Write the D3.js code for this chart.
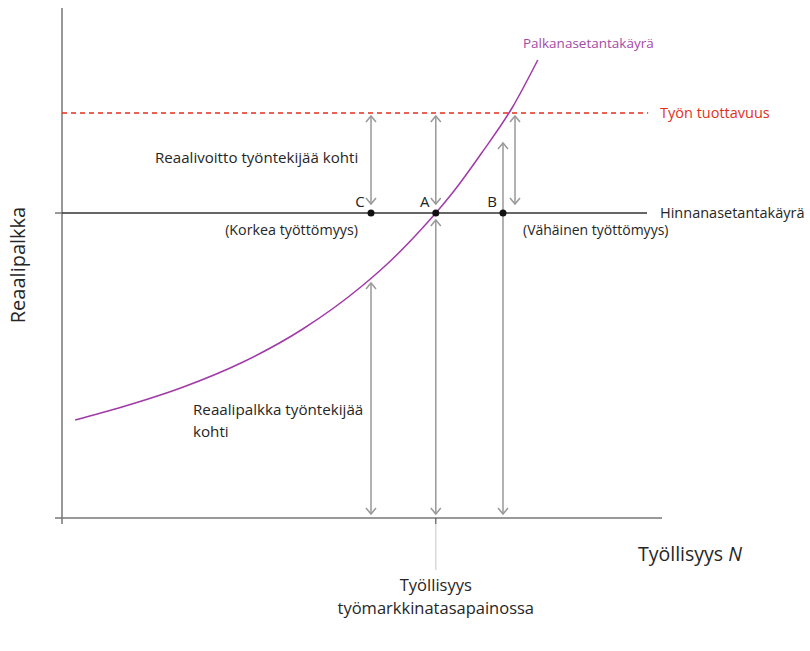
<!DOCTYPE html>
<html><head><meta charset="utf-8">
<script src="https://cdn.jsdelivr.net/npm/d3@7"></script>
<style>body{margin:0;background:#fff}svg{display:block}text{font-family:"Open Sans","Noto Sans",sans-serif}</style>
</head><body>
<svg id="c" width="810" height="651"></svg>
<script>
// --- data (model units) ---
const productivity = 81;      // Työn tuottavuus
const priceSetting = 61;      // Hinnanasetantakäyrä
const curveX = [2.2, 10, 20, 30, 40, 50, 55, 60, 62.3, 65, 70, 75, 79.3];
const curveY = [19.6, 22.2, 26.1, 31.1, 37.7, 46.4, 51.7, 57.9, 61, 64.9, 73.1, 82.0, 91.6];
const pointNames = ["C","A","B"];
const pointX = [51.5, 62.3, 73.5];
const arrowX = [51.5, 51.5, 62.3, 62.3, 73.5, 75.5];
const arrowY1 = [80.4, 47, 80.4, 59.6, 75, 80.4];
const arrowY2 = [62.8, 0.8, 62.8, 0.8, 0.8, 62.8];

const svg = d3.select("#c");
const x = d3.scaleLinear().domain([0,100]).range([62,662]);
const y = d3.scaleLinear().domain([0,100]).range([518,18]);

// axes
svg.append("line").attr("x1",x(0)).attr("x2",x(0)).attr("y1",y(102)).attr("y2",y(0)+6).attr("stroke","#777").attr("stroke-width",1.5);
svg.append("line").attr("x1",x(0)-7).attr("x2",x(100)).attr("y1",y(0)).attr("y2",y(0)).attr("stroke","#777").attr("stroke-width",1.5);
svg.append("line").attr("x1",x(0)-7).attr("x2",x(0)).attr("y1",y(priceSetting)).attr("y2",y(priceSetting)).attr("stroke","#777").attr("stroke-width",1.5);
// equilibrium marker below axis
svg.append("line").attr("x1",x(pointX[1])).attr("x2",x(pointX[1])).attr("y1",y(0)).attr("y2",y(0)+6).attr("stroke","#555").attr("stroke-width",1.2);
svg.append("line").attr("x1",x(pointX[1])).attr("x2",x(pointX[1])).attr("y1",y(0)+6).attr("y2",570).attr("stroke","#d0d0d0").attr("stroke-width",1.2);

// productivity line
svg.append("line").attr("x1",x(0)).attr("x2",x(97.7)).attr("y1",y(productivity)).attr("y2",y(productivity))
  .attr("stroke","#e2301e").attr("stroke-width",1.3).attr("stroke-dasharray","5,4");
// price setting line
svg.append("line").attr("x1",x(0)).attr("x2",x(97.5)).attr("y1",y(priceSetting)).attr("y2",y(priceSetting))
  .attr("stroke","#333").attr("stroke-width",1.5);

// arrows
const ag = svg.append("g").attr("stroke","#999").attr("stroke-width",1.5).attr("fill","none");
arrowX.forEach((ax,i)=>{
  const px = x(ax), a = y(arrowY1[i]), b = y(arrowY2[i]);
  ag.append("line").attr("x1",px).attr("x2",px).attr("y1",a).attr("y2",b);
  ag.append("path").attr("d",`M${px-5},${a+6}L${px},${a}L${px+5},${a+6}`);
  ag.append("path").attr("d",`M${px-5},${b-6}L${px},${b}L${px+5},${b-6}`);
});

// wage setting curve
const wageCurve = curveX.map((v,i)=>[v,curveY[i]]);
svg.append("path").datum(wageCurve)
  .attr("d",d3.line().x(d=>x(d[0])).y(d=>y(d[1])).curve(d3.curveMonotoneX))
  .attr("fill","none").attr("stroke","#a03aa8").attr("stroke-width",1.5);

// points
svg.selectAll("circle.pt").data(pointX).join("circle").attr("class","pt")
  .attr("cx",d=>x(d)).attr("cy",y(priceSetting)).attr("r",3.5).attr("fill","#111");
svg.selectAll("text.pl").data(pointX).join("text").attr("class","pl")
  .attr("x",d=>x(d)-11).attr("y",y(priceSetting)-6).attr("text-anchor","middle")
  .attr("font-size",15).attr("fill","#222").text((d,i)=>pointNames[i]);

function txt(t,px,py,opt={}){
  const e = svg.append("text").attr("x",px).attr("y",py).attr("font-size",opt.size||13.5)
    .attr("fill",opt.fill||"#262626").attr("text-anchor",opt.anchor||"start").text(t);
  if(opt.rot) e.attr("transform",`rotate(-90,${px},${py})`);
  return e;
}
txt("Palkanasetantakäyrä",523,48,{fill:"#a54aa5"});
txt("Työn tuottavuus",660,118,{fill:"#e2301e",size:14.5});
txt("Hinnanasetantakäyrä",660,218,{size:14.5});
txt("(Vähäinen työttömyys)",523,235,{size:14});
txt("(Korkea työttömyys)",358,235,{anchor:"end",size:14.3});
txt("Reaalivoitto työntekijää kohti",155,163,{size:15.1});
txt("Reaalipalkka työntekijää",193,415,{size:15.2});
txt("kohti",193,437,{size:15.2});
txt("Reaalipalkka",25,265,{size:20,rot:true,anchor:"middle"});
const tl = txt("Työllisyys ",638,561,{size:19.5});
tl.append("tspan").attr("font-style","italic").text("N");
txt("Työllisyys",x(pointX[1]),591,{size:16.5,anchor:"middle"});
txt("työmarkkinatasapainossa",x(pointX[1]),614,{size:16.5,anchor:"middle"});
</script>
</body></html>
